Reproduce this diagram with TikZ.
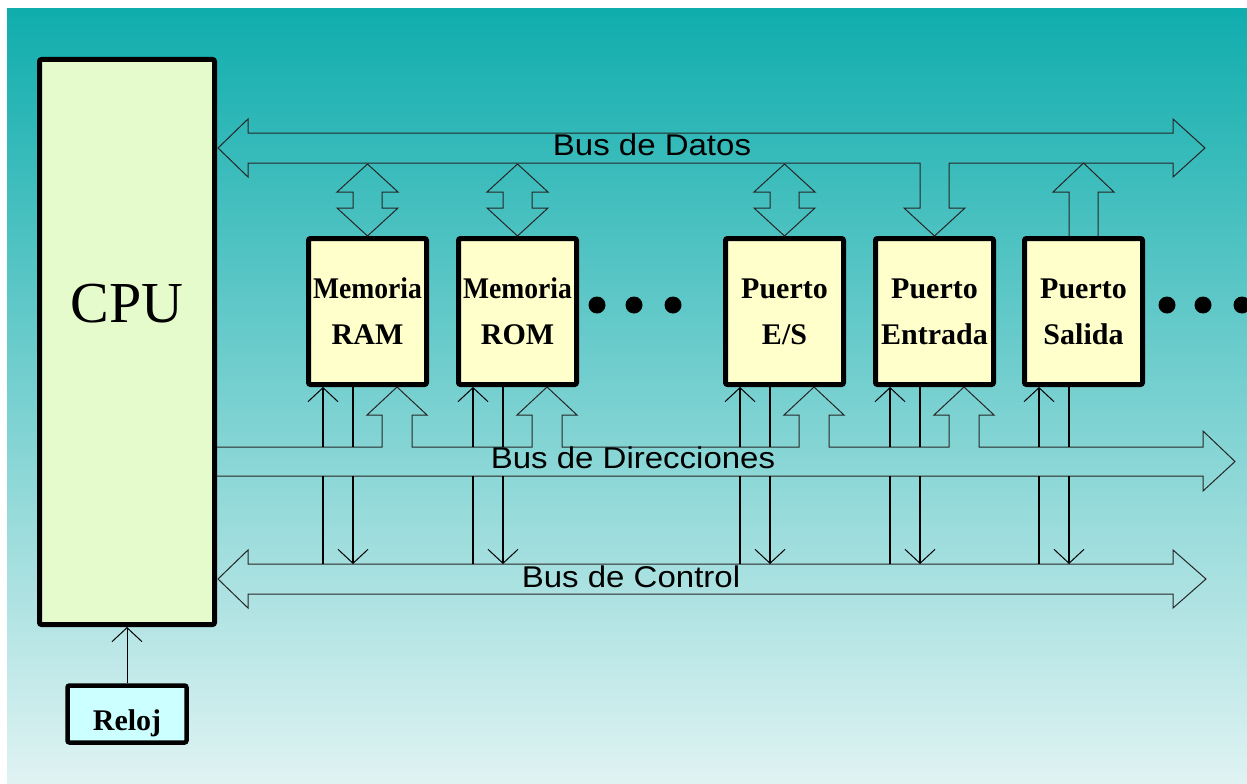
\documentclass[tikz,border=0pt]{standalone}
\usepackage{fontspec}
\setmainfont{Liberation Serif}
\newfontfamily\busfont[FakeStretch=1.1]{Liberation Sans}
\usetikzlibrary{arrows.meta,calc}
\definecolor{bgtop}{HTML}{10ADAD}
\definecolor{bgbot}{HTML}{E0F3F3}
\definecolor{cpugreen}{HTML}{E6FBCC}
\definecolor{unityellow}{HTML}{FFFFCC}
\definecolor{clockcyan}{HTML}{CCFFFF}
\tikzstyle{unitbox} = [draw, line width=5pt, rounded corners=2pt, fill=unityellow, minimum width=118pt, minimum height=146pt, inner sep=0pt, align=center, font=\bfseries\fontsize{30}{46}\selectfont]
\tikzstyle{busline} = [draw=black!85, line width=1pt]
\tikzstyle{sig} = [draw, line width=1.2pt]
\tikzstyle{sigtip} = [-{Straight Barb[length=14pt,width=30pt,line width=1pt]}]
\tikzstyle{buslabel} = [anchor=base, inner sep=0pt, font=\busfont\fontsize{30}{36}\selectfont]

\begin{document}
\begin{tikzpicture}[x=1pt, y=-1pt]
    \useasboundingbox (0,0) rectangle (1247,784);
    \shade[top color=bgtop, bottom color=bgbot] (7,9) rectangle (1247,784);

    % CPU and clock
    \node [draw, line width=5pt, rounded corners=2pt, fill=cpugreen, minimum width=175pt, minimum height=565pt, inner sep=0pt, text height=0pt, text depth=40pt, font=\fontsize{58}{60}\selectfont] (cpu) at (127,342) {CPU};
    \node [draw, line width=4.5pt, rounded corners=2pt, fill=clockcyan, minimum width=119pt, minimum height=57pt, inner sep=0pt, text height=32pt, text depth=0pt, font=\bfseries\fontsize{30}{36}\selectfont] (reloj) at (127,714) {Reloj};

    % memories and ports
    \node [unitbox] (ram) at (367.5,311.5) {\scalebox{0.92}[1]{Memoria}\\RAM};
    \node [unitbox] (rom) at (517.5,311.5) {\scalebox{0.92}[1]{Memoria}\\ROM};
    \node [unitbox] (es) at (784.5,311.5) {Puerto\\E/S};
    \node [unitbox] (ent) at (934.5,311.5) {Puerto\\Entrada};
    \node [unitbox] (sal) at (1083.5,311.5) {Puerto\\Salida};

    % bus edges
    \coordinate (datbot) at (0,163);
    \coordinate (adrtop) at (0,447);
    \coordinate (adrbot) at (0,476);
    \coordinate (ctltop) at (0,564);

    % data bus
    \draw[busline] (248,163) -- ($(ent.north |- datbot)+(-14.5,0)$) -- ++(0,45) -- ++(-16,0) -- (ent.north) -- ++(30.5,-28) -- ++(-16,0) -- ++(0,-45) -- (1173,163) -- (1173,177) -- (1205,148) -- (1173,119) -- (1173,133) -- (248,133) -- (248,119) -- (218,148) -- (248,177) -- cycle;
    \foreach \n in {ram,rom,es}
        \draw[busline] (\n.north) -- ++(-30.5,-28) -- ++(16,0) -- ++(0,-16) -- ++(-16,0) -- ++(30.5,-28) -- ++(30.5,28) -- ++(-16,0) -- ++(0,16) -- ++(16,0) -- cycle;
    \draw[busline] (sal.north) ++(-14.5,0) -- ++(0,-44) -- ++(-16,0) -- ++(30.5,-29) -- ++(30.5,29) -- ++(-16,0) -- ++(0,44);

    % address bus
    \draw[busline] (cpu.east |- adrtop) foreach \n in {ram,rom,es,ent} { -- ($(\n.south west)+(76,60)$) -- ++(0,-32) -- ++(-15,0) -- ++(30,-28) -- ++(30,28) -- ++(-15,0) -- ++(0,32) } -- (1203,447) -- (1203,431) -- (1235,461.5) -- (1203,491) -- (1203,476) -- (cpu.east |- adrbot);

    % control bus
    \draw[busline] (218,579) -- (248,550) -- (248,564) -- (1173,564) -- (1173,550) -- (1206,579) -- (1173,608) -- (1173,594) -- (248,594) -- (248,608) -- cycle;

    % control lines
    \foreach \n in {ram,rom,es,ent,sal} {
        \path (\n.south west) ++(17,0) coordinate (in\n) ++(30,0) coordinate (out\n);
        \draw[sig] (in\n |- ctltop) -- (in\n |- adrbot);
        \draw[sig,sigtip] (in\n |- adrtop) -- (in\n);
        \draw[sig] (out\n) -- (out\n |- adrtop);
        \draw[sig,sigtip] (out\n |- adrbot) -- (out\n |- ctltop);
    }
    \draw[sig,sigtip,line width=1pt] (reloj.north) -- (cpu.south);

    \foreach \x in {597,634,673,1167,1203,1242}
        \fill (\x,305) circle (8.5pt);

    \node[buslabel] (datos) at (652,155) {Bus de Datos};
    \node[buslabel] (dirs) at (633,468) {Bus de Direcciones};
    \node[buslabel] (ctl) at (631,587) {Bus de Control};
\end{tikzpicture}
\end{document}
